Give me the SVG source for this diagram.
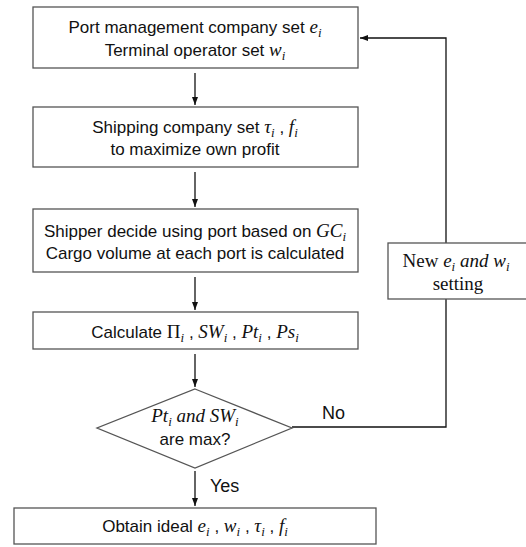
<svg xmlns="http://www.w3.org/2000/svg" width="526" height="547" viewBox="0 0 526 547">
<style>
.box{fill:#fff;stroke:#555;stroke-width:1.3}
.ln{fill:none;stroke:#111;stroke-width:1.3}
.t{font-family:"Liberation Sans",Arial,sans-serif;font-size:17px;fill:#111;text-anchor:middle}
.s{font-family:"Liberation Serif","Times New Roman",serif;font-size:19px;fill:#111;text-anchor:middle}
.m{font-family:"Liberation Serif","Times New Roman",serif;font-style:italic;font-size:19px}
.sub{font-family:"Liberation Serif","Times New Roman",serif;font-style:italic;font-size:13px}
.lbl{font-family:"Liberation Sans",Arial,sans-serif;font-size:18px;fill:#111}
</style>
<defs>
<marker id="ah" viewBox="0 0 8 6" refX="8" refY="3" markerWidth="8" markerHeight="6" markerUnits="userSpaceOnUse" orient="auto">
<path d="M0,0 L8,3 L0,6 z" fill="#111"/>
</marker>
</defs>
<rect width="526" height="547" fill="#fff"/>
<g id="connectors">
<line class="ln" x1="195" y1="73" x2="195" y2="105" marker-end="url(#ah)"/>
<line class="ln" x1="195" y1="172" x2="195" y2="207" marker-end="url(#ah)"/>
<line class="ln" x1="195" y1="277" x2="195" y2="310" marker-end="url(#ah)"/>
<line class="ln" x1="195" y1="354" x2="195" y2="387" marker-end="url(#ah)"/>
<line class="ln" x1="195" y1="471" x2="195" y2="506" marker-end="url(#ah)"/>
<polyline class="ln" points="292,427 446,427 446,299"/>
<polyline class="ln" points="446,243 446,38 360,38" marker-end="url(#ah)"/>
<text class="lbl" x="322" y="419">No</text>
<text class="lbl" x="210" y="492">Yes</text>
</g>
<g id="node1">
<rect class="box" x="33" y="7" width="325" height="61"/>
<text class="t" x="195" y="33">Port management company set <tspan class="m">e</tspan><tspan class="sub" dy="4">i</tspan></text>
<text class="t" x="195" y="56">Terminal operator set <tspan class="m">w</tspan><tspan class="sub" dy="4">i</tspan></text>
</g>
<g id="node2">
<rect class="box" x="33" y="107" width="325" height="60"/>
<text class="t" x="195" y="133">Shipping company set <tspan class="m">τ</tspan><tspan class="sub" dy="4">i</tspan><tspan dy="-4"> , </tspan><tspan class="m">f</tspan><tspan class="sub" dy="4">i</tspan></text>
<text class="t" x="195" y="155">to maximize own profit</text>
</g>
<g id="node3">
<rect class="box" x="33" y="209" width="325" height="63"/>
<text class="t" x="195" y="237">Shipper decide using port based on <tspan class="m">GC</tspan><tspan class="sub" dy="4">i</tspan></text>
<text class="t" x="195" y="259">Cargo volume at each port is calculated</text>
</g>
<g id="node4">
<rect class="box" x="33" y="312" width="325" height="37"/>
<text class="t" x="195" y="338">Calculate <tspan font-family="Liberation Serif,serif" font-size="19">Π</tspan><tspan class="sub" dy="4">i</tspan><tspan dy="-4"> , </tspan><tspan class="m">SW</tspan><tspan class="sub" dy="4">i</tspan><tspan dy="-4"> , </tspan><tspan class="m">Pt</tspan><tspan class="sub" dy="4">i</tspan><tspan dy="-4"> , </tspan><tspan class="m">Ps</tspan><tspan class="sub" dy="4">i</tspan></text>
</g>
<g id="decision">
<polygon class="box" points="195,389 292,428 195,468 97,428"/>
<text class="s" x="195" y="422"><tspan class="m">Pt</tspan><tspan class="sub" dy="4">i</tspan><tspan class="m" dy="-4"> and SW</tspan><tspan class="sub" dy="4">i</tspan></text>
<text class="t" x="195" y="445">are max?</text>
</g>
<g id="node5">
<rect class="box" x="14" y="508" width="362" height="36"/>
<text class="t" x="195" y="532">Obtain ideal <tspan class="m">e</tspan><tspan class="sub" dy="4">i</tspan><tspan dy="-4"> , </tspan><tspan class="m">w</tspan><tspan class="sub" dy="4">i</tspan><tspan dy="-4"> , </tspan><tspan class="m">τ</tspan><tspan class="sub" dy="4">i</tspan><tspan dy="-4"> , </tspan><tspan class="m">f</tspan><tspan class="sub" dy="4">i</tspan></text>
</g>
<g id="newsetting">
<rect class="box" x="388" y="243" width="140" height="56"/>
<text class="s" x="456" y="267">New <tspan class="m">e</tspan><tspan class="sub" dy="4">i</tspan><tspan class="m" dy="-4"> and w</tspan><tspan class="sub" dy="4">i</tspan></text>
<text class="s" x="458" y="290">setting</text>
</g>
</svg>
